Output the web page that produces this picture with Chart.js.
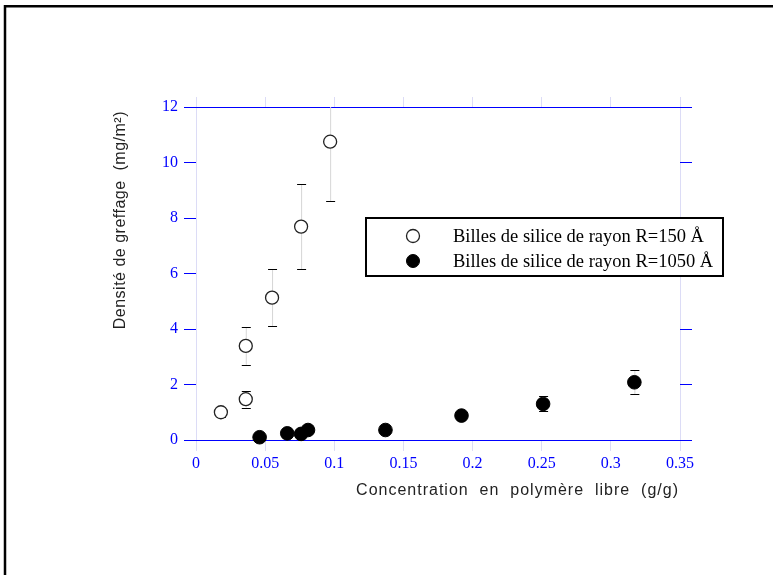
<!DOCTYPE html>
<html>
<head>
<meta charset="utf-8">
<script src="https://cdn.jsdelivr.net/npm/chart.js@4/dist/chart.umd.min.js"></script>
<style>
  html, body { margin: 0; padding: 0; background: #fff; }
  #wrap { width: 773px; height: 575px; }
</style>
</head>
<body>
<div id="wrap"><canvas id="greffage"></canvas></div>
<script>
// billes R=150 Å (cercles vides)
const petitesX = [0.018, 0.036, 0.036, 0.055, 0.076, 0.097];
const petitesY = [1.0, 1.47, 3.39, 5.13, 7.69, 10.75];
const petitesErr = [0.17, 0.3, 0.68, 1.02, 1.53, 2.14];

// billes R=1050 Å (disques pleins)
const grossesX = [0.046, 0.066, 0.076, 0.081, 0.137, 0.192, 0.251, 0.317];
const grossesY = [0.10, 0.24, 0.22, 0.36, 0.36, 0.88, 1.30, 2.08];
const grossesErr = [0, 0, 0, 0, 0, 0, 0.27, 0.43];

const xTicks = [0, 0.05, 0.1, 0.15, 0.2, 0.25, 0.3, 0.35];
const yTicks = [0, 2, 4, 6, 8, 10, 12];

const titreX = 'Concentration  en  polymère  libre  (g/g)';
const titreY = 'Densité de greffage  (mg/m²)';

const BLEU = '#0000ff';
const LAVANDE = '#dcdcf6';
const GRIS = '#d6d6d6';
const SERIF = '"Liberation Serif", "Times New Roman", serif';
const SANS = '"Liberation Sans", Arial, sans-serif';

function points(xs, ys) {
    return xs.map((x, i) => ({ x: x, y: ys[i] }));
}

function setTicks(values) {
    return scale => { scale.ticks = values.map(v => ({ value: v })); };
}

// cadre noir autour de la figure
const cadre = {
    id: 'cadre',
    beforeDraw(chart) {
        const ctx = chart.ctx;
        ctx.save();
        ctx.fillStyle = '#fff';
        ctx.fillRect(0, 0, chart.width, chart.height);
        ctx.strokeStyle = '#000';
        ctx.lineWidth = 2.5;
        ctx.beginPath();
        ctx.moveTo(5, chart.height);
        ctx.lineTo(5, 6.3);
        ctx.lineTo(chart.width, 6.3);
        ctx.stroke();
        ctx.restore();
    }
};

// titres des axes, un peu espacés
const titresAxes = {
    id: 'titresAxes',
    afterDraw(chart) {
        const ctx = chart.ctx;
        const area = chart.chartArea;
        ctx.save();
        ctx.fillStyle = '#222';
        ctx.font = '16px ' + SANS;
        ctx.textBaseline = 'middle';
        ctx.textAlign = 'right';
        ctx.letterSpacing = '1px';
        ctx.fillText(titreX, area.right - 1, chart.scales.x.bottom - 13);
        ctx.letterSpacing = '0.5px';
        ctx.translate(chart.scales.y.left + 15, area.top + 4);
        ctx.rotate(-Math.PI / 2);
        ctx.fillText(titreY, 0, 0);
        ctx.restore();
    }
};

// barres d'erreur verticales sous les marqueurs
const barresErreur = {
    id: 'barresErreur',
    beforeDatasetsDraw(chart) {
        const ctx = chart.ctx;
        const xs = chart.scales.x, ys = chart.scales.y;
        const area = chart.chartArea;
        ctx.save();
        chart.data.datasets.forEach(ds => {
            ds.data.forEach((p, i) => {
                const e = ds.erreurs[i];
                if (!e) return;
                const px = xs.getPixelForValue(p.x);
                let yHaut = ys.getPixelForValue(p.y + e);
                let yBas = ys.getPixelForValue(p.y - e);
                const coupeHaut = yHaut < area.top;
                if (coupeHaut) yHaut = area.top;
                ctx.strokeStyle = GRIS;
                ctx.lineWidth = 1;
                ctx.beginPath();
                ctx.moveTo(px + 0.5, yHaut);
                ctx.lineTo(px + 0.5, yBas);
                ctx.stroke();
                ctx.strokeStyle = '#000';
                ctx.beginPath();
                if (!coupeHaut) {
                    ctx.moveTo(px - 4, Math.round(yHaut) + 0.5);
                    ctx.lineTo(px + 5, Math.round(yHaut) + 0.5);
                }
                ctx.moveTo(px - 4, Math.round(yBas) + 0.5);
                ctx.lineTo(px + 5, Math.round(yBas) + 0.5);
                ctx.stroke();
            });
        });
        ctx.restore();
    }
};

// légende encadrée dans la zone du graphe
const legende = {
    id: 'legende',
    afterDraw(chart) {
        const ctx = chart.ctx;
        ctx.save();
        ctx.fillStyle = '#fff';
        ctx.fillRect(366, 218, 357, 58);
        ctx.strokeStyle = '#000';
        ctx.lineWidth = 2;
        ctx.strokeRect(366, 218, 357, 58);
        chart.data.datasets.forEach((ds, i) => {
            const y = 236 + i * 25;
            ctx.fillStyle = ds.backgroundColor;
            ctx.strokeStyle = ds.borderColor;
            ctx.lineWidth = ds.borderWidth;
            Chart.helpers.drawPoint(ctx, { pointStyle: 'circle', radius: 6.5, borderWidth: ds.borderWidth }, 413, y);
            ctx.fillStyle = '#000';
            ctx.font = '18.5px ' + SERIF;
            ctx.textBaseline = 'middle';
            ctx.fillText(ds.label, 453, y + 1);
        });
        ctx.restore();
    }
};

new Chart(document.getElementById('greffage'), {
    type: 'scatter',
    data: {
        datasets: [
            {
                label: 'Billes de silice de rayon R=150 Å',
                data: points(petitesX, petitesY),
                erreurs: petitesErr,
                backgroundColor: '#fff',
                borderColor: '#222',
                borderWidth: 1.3,
                pointRadius: 6.5,
                clip: false
            },
            {
                label: 'Billes de silice de rayon R=1050 Å',
                data: points(grossesX, grossesY),
                erreurs: grossesErr,
                backgroundColor: '#000',
                borderColor: '#000',
                borderWidth: 1,
                pointRadius: 6.8,
                clip: false
            }
        ]
    },
    options: {
        responsive: true,
        maintainAspectRatio: false,
        animation: false,
        events: [],
        layout: { padding: { left: 106, right: 73, top: 87, bottom: 71 } },
        plugins: { legend: { display: false }, tooltip: { enabled: false } },
        scales: {
            x: {
                type: 'linear', position: 'bottom', min: 0, max: 0.35,
                afterBuildTicks: setTicks(xTicks),
                afterFit: s => { s.height = 64; },
                border: { display: false },
                grid: {
                    color: c => (c.tick && (c.tick.value === 0 || c.tick.value === 0.35)) ? LAVANDE : 'transparent',
                    tickColor: LAVANDE,
                    tickLength: 11
                },
                ticks: {
                    color: BLEU, padding: 3, maxRotation: 0, autoSkip: false,
                    font: { family: SERIF, size: 16 },
                    callback: v => String(+v.toFixed(2))
                }
            },
            xHaut: {
                type: 'linear', position: 'top', min: 0, max: 0.35,
                afterBuildTicks: setTicks(xTicks),
                afterFit: s => { s.height = 20; },
                border: { display: false },
                grid: { drawOnChartArea: false, tickColor: LAVANDE, tickLength: 10 },
                ticks: { display: false }
            },
            y: {
                type: 'linear', position: 'left', min: 0, max: 12,
                afterBuildTicks: setTicks(yTicks),
                afterFit: s => { s.width = 90; },
                border: { display: false },
                grid: {
                    color: c => (c.tick && (c.tick.value === 0 || c.tick.value === 12)) ? BLEU : 'transparent',
                    tickColor: BLEU,
                    tickLength: 12
                },
                ticks: {
                    color: BLEU, padding: 6,
                    font: { family: SERIF, size: 16 }
                }
            },
            yDroite: {
                type: 'linear', position: 'right', min: 0, max: 12,
                afterBuildTicks: setTicks(yTicks),
                afterFit: s => { s.width = 20; },
                border: { display: false },
                grid: { drawOnChartArea: false, tickColor: BLEU, tickLength: 12 },
                ticks: { display: false }
            }
        }
    },
    plugins: [cadre, barresErreur, titresAxes, legende]
});
</script>
</body>
</html>
